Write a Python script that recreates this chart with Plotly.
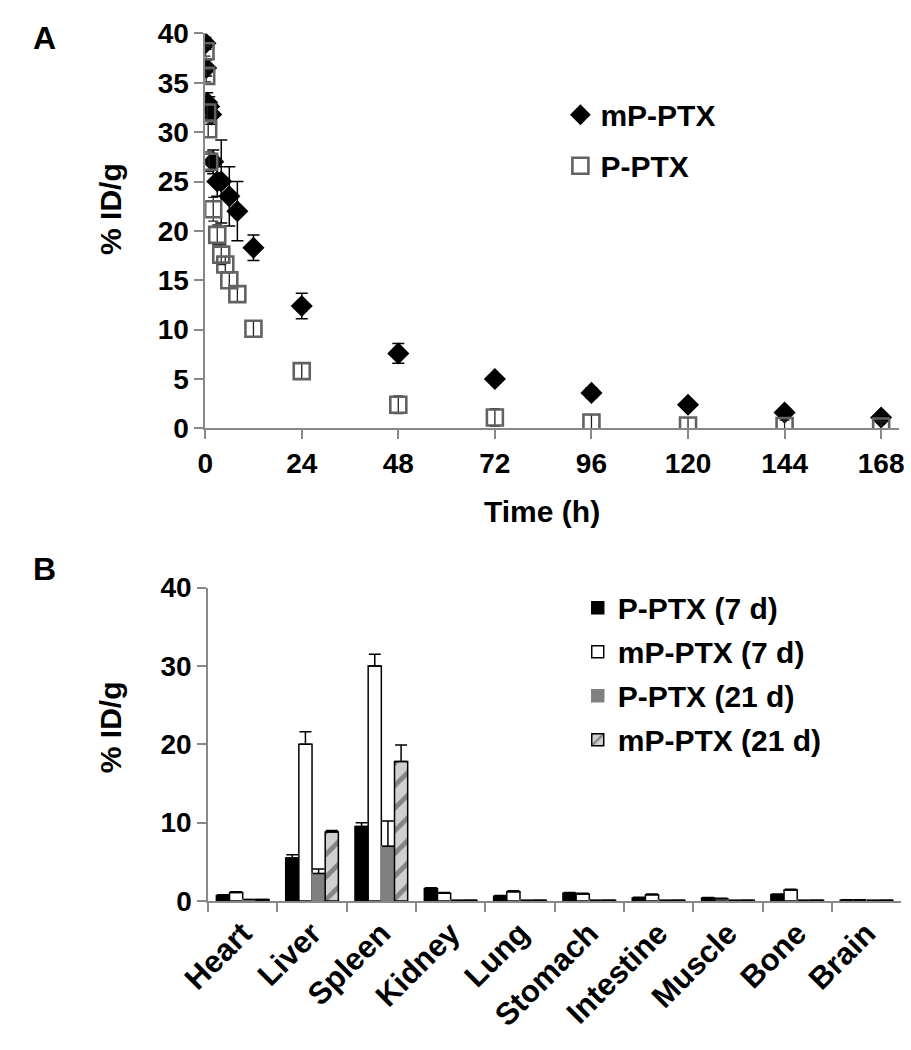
import plotly.graph_objects as go

# ---------------- Panel A data ----------------
time_m = [0.08, 0.25, 0.5, 1, 1.5, 2, 3, 4, 6, 8, 12, 24, 48, 72, 96, 120, 144, 168]
mp_ptx = [39.0, 36.5, 33.0, 32.6, 31.8, 27.0, 25.0, 25.0, 23.5, 22.0, 18.3, 12.4, 7.6, 5.0, 3.6, 2.4, 1.6, 1.1]
mp_err = [0.6, 0.8, 1.0, 1.0, 1.0, 1.2, 1.5, 4.2, 3.0, 3.0, 1.3, 1.3, 1.0, 0.4, 0.5, 0.4, 0.3, 0.3]

time_p = [0.08, 0.25, 0.5, 0.75, 1, 2, 3, 4, 5, 6, 8, 12, 24, 48, 72, 96, 120, 144, 168]
p_ptx = [38.2, 35.7, 32.0, 30.3, 27.0, 22.2, 19.6, 17.6, 16.6, 15.0, 13.6, 10.1, 5.8, 2.4, 1.1, 0.6, 0.3, 0.25, 0.2]
p_err = [0.5, 0.6, 0.8, 0.8, 1.0, 1.2, 1.0, 1.0, 0.8, 0.8, 0.8, 0.8, 0.8, 0.9, 0.9, 0.8, 0.8, 0.6, 0.5]

time_ticks = [0, 24, 48, 72, 96, 120, 144, 168]

# ---------------- Panel B data ----------------
organs = ["Heart", "Liver", "Spleen", "Kidney", "Lung", "Stomach", "Intestine", "Muscle", "Bone", "Brain"]
p7 = [0.7, 5.5, 9.5, 1.6, 0.6, 1.0, 0.4, 0.4, 0.8, 0.1]
p7_err = [0.1, 0.4, 0.5, 0.1, 0.1, 0.1, 0.1, 0.05, 0.1, 0.05]
mp7 = [1.1, 20.0, 30.0, 1.0, 1.2, 0.9, 0.8, 0.3, 1.4, 0.1]
mp7_err = [0.1, 1.6, 1.5, 0.1, 0.1, 0.1, 0.1, 0.05, 0.1, 0.05]
p21 = [0.2, 3.5, 7.0, 0.1, 0.1, 0.1, 0.1, 0.1, 0.1, 0.1]
p21_err = [0.0, 0.6, 3.2, 0.0, 0.0, 0.0, 0.0, 0.0, 0.0, 0.0]
mp21 = [0.2, 8.8, 17.8, 0.1, 0.1, 0.1, 0.1, 0.1, 0.1, 0.1]
mp21_err = [0.0, 0.2, 2.1, 0.0, 0.0, 0.0, 0.0, 0.0, 0.0, 0.0]

FONT = "Liberation Sans, Arial, sans-serif"
W, H = 911, 1050
TICK_FS = 28
TITLE_FS = 30

fig = go.Figure()

# Panel A traces
fig.add_trace(go.Scatter(
    x=time_m, y=mp_ptx, mode="markers", name="mP-PTX",
    marker=dict(symbol="diamond", size=17, color="black", line=dict(width=0)),
    error_y=dict(type="data", array=mp_err, color="black", thickness=1.5, width=6),
    xaxis="x", yaxis="y", legend="legend", legendgroup="a1"))
fig.add_trace(go.Scatter(
    x=time_p, y=p_ptx, mode="markers", name="P-PTX",
    marker=dict(symbol="square-open", size=16, color="#626262", line=dict(width=2.6, color="#626262")),
    error_y=dict(type="data", array=p_err, color="#222222", thickness=1.3, width=5),
    xaxis="x", yaxis="y", legend="legend", legendgroup="a2"))

# Panel B traces
err_kw = dict(type="data", symmetric=False, color="black", thickness=1.5, width=6)
fig.add_trace(go.Bar(
    x=organs, y=p7, name="P-PTX (7 d)",
    marker=dict(color="black", line=dict(color="black", width=1.5)),
    error_y=dict(array=p7_err, arrayminus=[0] * len(p7), **err_kw),
    xaxis="x2", yaxis="y2", legend="legend2", legendgroup="b1"))
fig.add_trace(go.Bar(
    x=organs, y=mp7, name="mP-PTX (7 d)",
    marker=dict(color="white", line=dict(color="black", width=1.5)),
    error_y=dict(array=mp7_err, arrayminus=[0] * len(mp7), **err_kw),
    xaxis="x2", yaxis="y2", legend="legend2", legendgroup="b2"))
fig.add_trace(go.Bar(
    x=organs, y=p21, name="P-PTX (21 d)",
    marker=dict(color="#808080", line=dict(color="#808080", width=1.5)),
    error_y=dict(array=p21_err, arrayminus=[0] * len(p21), **err_kw),
    xaxis="x2", yaxis="y2", legend="legend2", legendgroup="b3"))
fig.add_trace(go.Bar(
    x=organs, y=mp21, name="mP-PTX (21 d)",
    marker=dict(color="#b0b0b0", line=dict(color="black", width=1.5),
                pattern=dict(shape="/", fgcolor="#3a3a3a", bgcolor="#d0d0d0", size=16, solidity=0.3)),
    error_y=dict(array=mp21_err, arrayminus=[0] * len(mp21), **err_kw),
    xaxis="x2", yaxis="y2", legend="legend2", legendgroup="b4"))


def px_x(p):
    return p / W


def px_y(p):
    return 1 - p / H


tickfont = dict(family=FONT, size=TICK_FS, color="black", weight="bold")
axis_common = dict(showline=True, linecolor="#888888", linewidth=1.5, ticks="outside",
                   tickcolor="#888888", ticklen=9, tickwidth=1.5, showgrid=False, zeroline=False,
                   tickfont=tickfont)

fig.update_layout(
    width=W, height=H, margin=dict(l=0, r=0, t=0, b=0),
    paper_bgcolor="white", plot_bgcolor="white",
    font=dict(family=FONT, color="black"),
    barmode="group", bargap=0.24, bargroupgap=0.0,
    xaxis=dict(domain=[px_x(183), px_x(904)], range=[0, 172.5], tickvals=time_ticks,
               anchor="y", **axis_common),
    yaxis=dict(domain=[px_y(426), px_y(19)], range=[0, 40], dtick=5, anchor="x", **axis_common),
    xaxis2=dict(domain=[px_x(186), px_x(906)], anchor="y2", tickangle=-45, tickson="boundaries",
                **{**axis_common, "tickfont": dict(family=FONT, size=31, color="black", weight="bold")}),
    yaxis2=dict(domain=[px_y(913), px_y(590)], range=[0, 40], dtick=10, anchor="x2", **axis_common),
    legend=dict(x=px_x(552), y=px_y(76), xanchor="left", yanchor="top",
                font=dict(family=FONT, size=30, color="black", weight="bold"), tracegroupgap=9,
                bgcolor="rgba(0,0,0,0)", itemwidth=30),
    legend2=dict(x=px_x(570), y=px_y(584), xanchor="left", yanchor="top",
                 font=dict(family=FONT, size=30, color="black", weight="bold"), tracegroupgap=2,
                 bgcolor="rgba(0,0,0,0)", itemwidth=30),
    annotations=[
        dict(text="<b>A</b>", x=px_x(2), y=px_y(3), xref="paper", yref="paper",
             xanchor="left", yanchor="top", showarrow=False, font=dict(family=FONT, size=32)),
        dict(text="<b>B</b>", x=px_x(2), y=px_y(550), xref="paper", yref="paper",
             xanchor="left", yanchor="top", showarrow=False, font=dict(family=FONT, size=32)),
        dict(text="<b>% ID/g</b>", x=px_x(84), y=px_y(200), xref="paper", yref="paper",
             xanchor="center", yanchor="middle", textangle=-90, showarrow=False,
             font=dict(family=FONT, size=TITLE_FS)),
        dict(text="<b>% ID/g</b>", x=px_x(84), y=px_y(734), xref="paper", yref="paper",
             xanchor="center", yanchor="middle", textangle=-90, showarrow=False,
             font=dict(family=FONT, size=TITLE_FS)),
        dict(text="<b>Time (h)</b>", x=px_x(533), y=px_y(512), xref="paper", yref="paper",
             xanchor="center", yanchor="middle", showarrow=False,
             font=dict(family=FONT, size=TITLE_FS)),
    ],
)

fig.write_html(
    "out.html",
    config={"displayModeBar": False},
    post_script="document.body.style.margin='0px';document.body.style.overflow='hidden';"
                "document.documentElement.style.overflow='hidden';",
)
